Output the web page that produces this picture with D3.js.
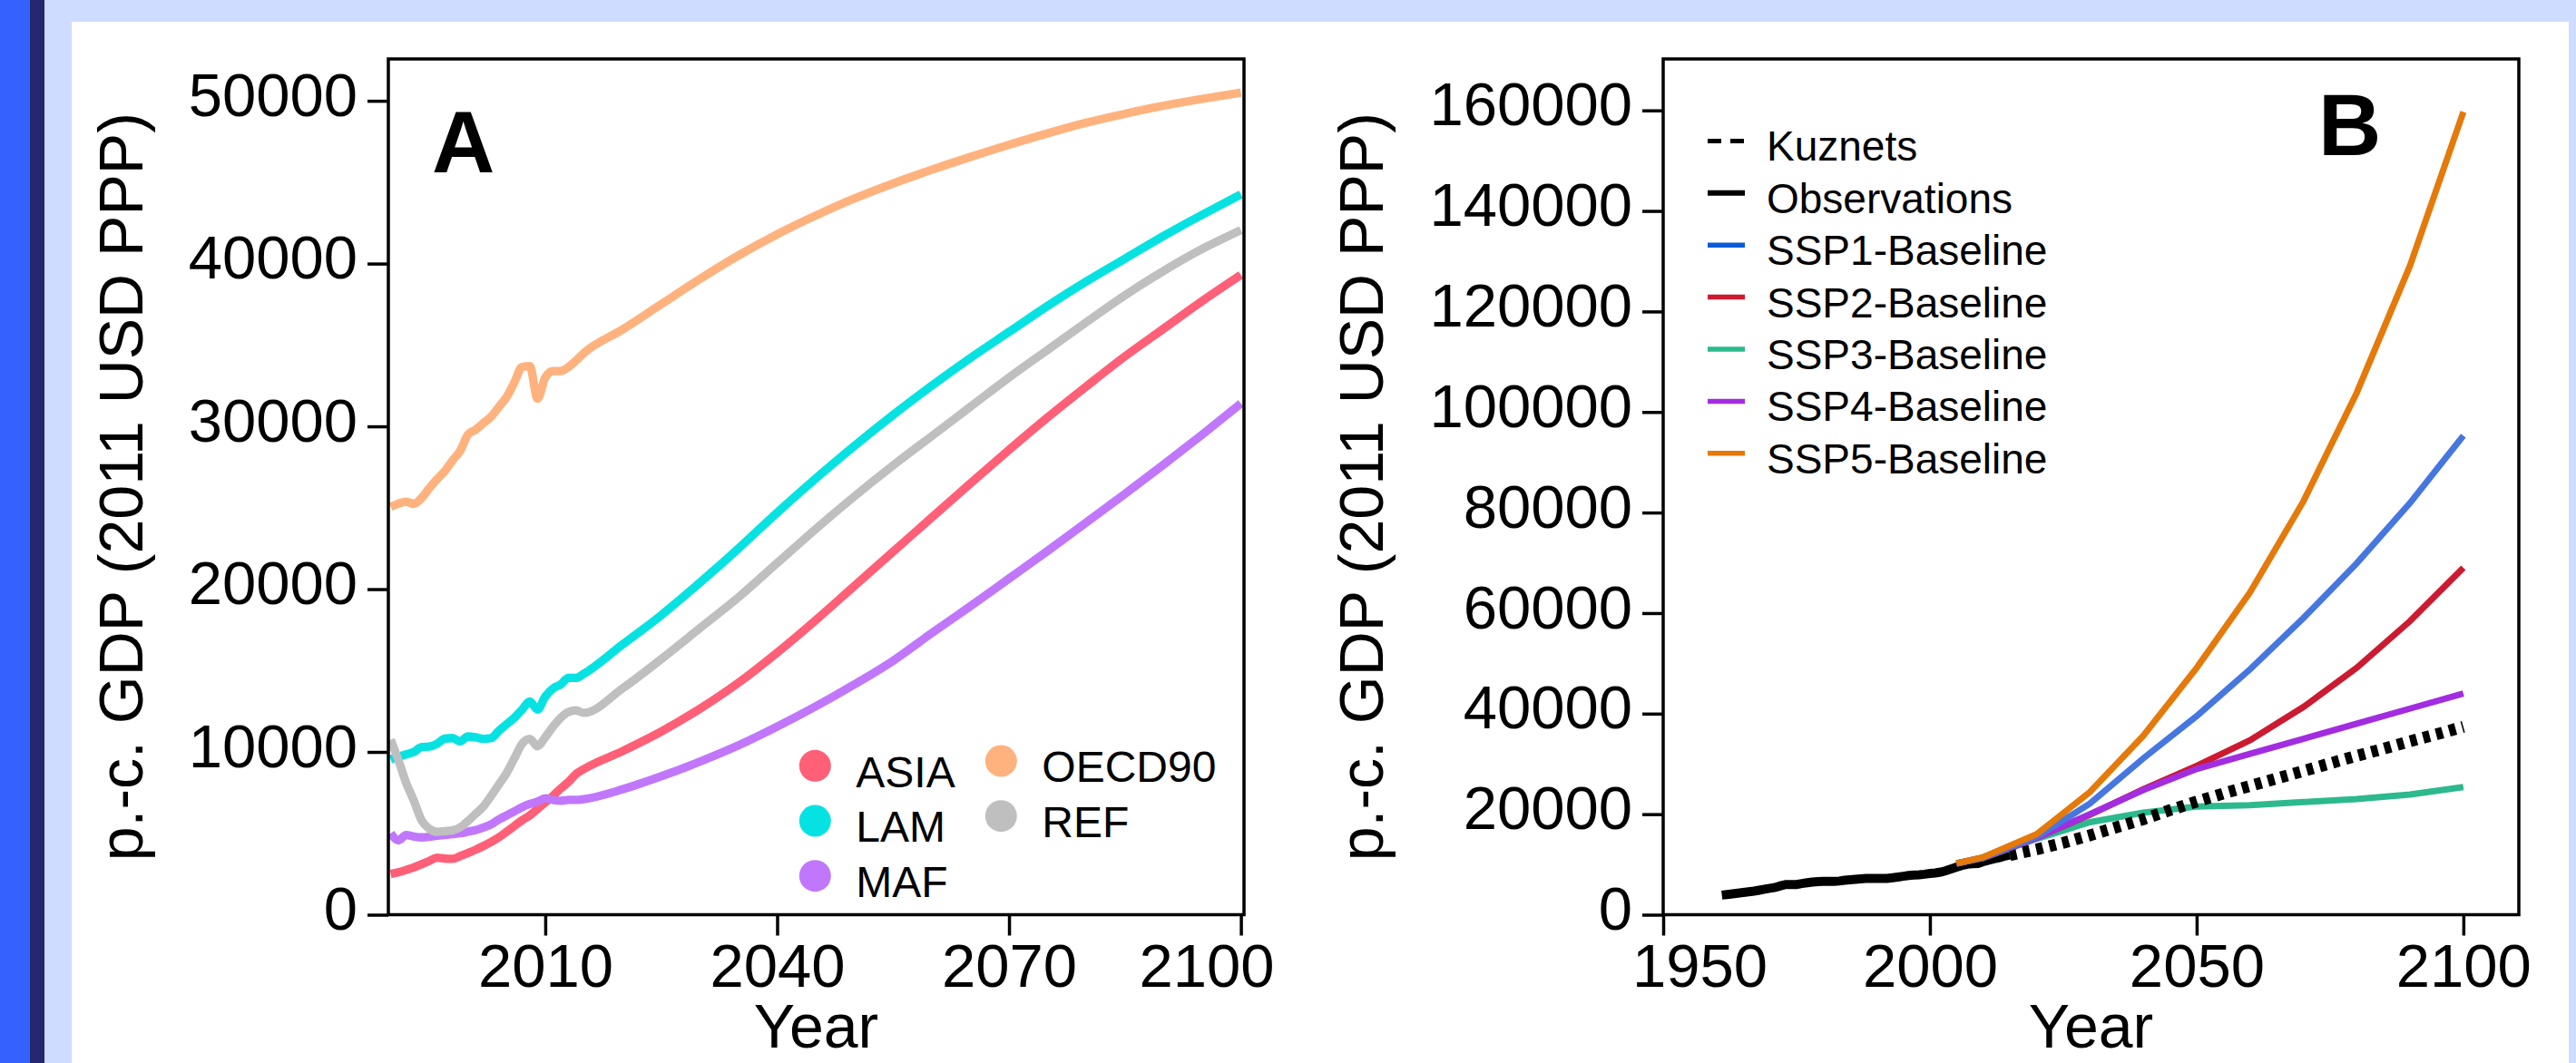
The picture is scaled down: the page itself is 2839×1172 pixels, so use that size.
<!DOCTYPE html>
<html><head><meta charset="utf-8">
<script src="https://cdn.jsdelivr.net/npm/d3@7"></script>
<style>
html,body{margin:0;padding:0;background:#fff;overflow:hidden;}
svg text{font-family:"Liberation Sans",Arial,Helvetica,sans-serif;}
</style></head><body>
<svg id="chart" width="2839" height="1172"></svg>
<script>
// ---------------- DATA: panel A (regional p.-c. GDP) ----------------
const yearsA = [1990,1991,1992,1993,1994,1995,1996,1997,1998,1999,2000,2001,2002,2003,2004,2005,2006,2007,2008,2009,2010,2011,2012,2013,2014,2015,
  2020,2025,2030,2035,2040,2045,2050,2055,2060,2065,2070,2075,2080,2085,2090,2095,2100];
const asia = [2500,2600,2750,2900,3100,3300,3500,3450,3430,3600,3790,3990,4220,4470,4750,5100,5450,5800,6100,6500,6900,7300,7750,8150,8650,8950,
  10050,11250,12650,14250,16100,18100,20200,22300,24400,26500,28550,30550,32450,34300,36000,37700,39300];
const lam = [9550,9700,9850,10000,10300,10330,10500,10820,10850,10650,10950,10900,10800,10850,11300,11700,12100,12600,13100,12600,13400,13900,14150,14550,14550,14800,
  16600,18400,20400,22500,24700,26800,28800,30700,32500,34200,35800,37400,38900,40300,41700,43000,44250];
const maf = [5000,4570,4900,4800,4750,4780,4850,4900,4950,5000,5100,5200,5350,5550,5850,6100,6350,6600,6800,6950,7150,7050,7000,7050,7050,7100,
  7700,8500,9400,10400,11550,12800,14150,15600,17300,18950,20650,22350,24100,25850,27650,29500,31400];
const oecd90 = [25060,25250,25370,25240,25600,26200,26750,27250,27900,28500,29500,29800,30200,30600,31200,31800,32700,33650,33700,31700,33000,33400,33400,33650,34050,34500,
  35950,37500,39050,40500,41800,42950,44000,44920,45760,46550,47300,48000,48650,49200,49700,50120,50500];
const ref = [10750,9500,8100,7000,5800,5280,5090,5130,5180,5370,5750,6200,6650,7300,8000,8700,9600,10500,10800,10350,10900,11550,12100,12450,12550,12400,
  13900,15700,17600,19500,21600,23700,25700,27600,29400,31200,33000,34700,36400,38050,39550,40900,42050];
const regionNames = ["ASIA","LAM","MAF","OECD90","REF"];
const regionColors = ["#FF5F77","#06E2E2","#C077FC","#FFB27D","#BFBFBF"];
const xTicksA = [2010,2040,2070,2100];
const yTicksA = [0,10000,20000,30000,40000,50000];

// ---------------- DATA: panel B (world p.-c. GDP) ----------------
const obsYears = [1961,1962,1963,1964,1965,1966,1967,1968,1969,1970,1971,1972,1973,1974,1975,1976,1977,1978,1979,1980,
  1981,1982,1983,1984,1985,1986,1987,1988,1989,1990,1991,1992,1993,1994,1995,1996,1997,1998,1999,2000,
  2001,2002,2003,2004,2005,2006,2007,2008,2009,2010,2011,2012,2013,2014,2015];
const obsValues = [3900,4020,4150,4280,4420,4560,4700,4880,5080,5250,5420,5750,6000,6020,6020,6200,6350,6480,6600,6620,
  6620,6620,6700,6850,6950,7050,7130,7200,7220,7220,7210,7220,7350,7500,7650,7800,7880,7930,8050,8200,
  8300,8480,8750,9100,9450,9800,10050,10150,10200,10550,10850,11100,11350,11650,11900];
const kuzYears = [2015,2020,2025,2030,2035,2040,2045,2050,2055,2060,2065,2070,2075,2080,2085,2090,2095,2100];
const kuzValues = [11850,13000,14300,15800,17400,19000,20800,22500,24100,25600,27100,28600,30100,31600,33000,34500,35900,37400];
const sspYears = [2005,2010,2020,2030,2040,2050,2060,2070,2080,2090,2100];
const ssp1 = [10200,11400,15500,22100,31100,39500,48800,59000,69900,81900,95300];
const ssp2 = [10200,11350,15300,19900,24950,29600,34700,41300,49100,58400,69000];
const ssp3 = [10200,11300,15100,18400,20300,21500,21800,22400,23000,23900,25400];
const ssp4 = [10200,11350,15300,20000,24800,29000,32000,35000,38000,41000,44000];
const ssp5 = [10200,11450,16000,24400,35600,49100,64100,82200,103800,129100,159700];
const sspNames = ["SSP1-Baseline","SSP2-Baseline","SSP3-Baseline","SSP4-Baseline","SSP5-Baseline"];
const sspColors = ["#4676E0","#CC1A30","#2CB98D","#A22DE0","#E5790A"];
const sspLegendColors = ["#0B5BD7","#CC1A30","#2CB98D","#A22DE0","#E5790A"];
const xTicksB = [1950,2000,2050,2100];
const yTicksB = [0,20000,40000,60000,80000,100000,120000,140000,160000];

// ---------------- LAYOUT ----------------
const W = 2839, H = 1172;
const FONT = 67;
const svg = d3.select("#chart");
svg.append("rect").attr("width", W).attr("height", H).attr("fill", "#CEDCFF");
svg.append("rect").attr("x", 0).attr("width", 33).attr("height", H).attr("fill", "#3461FF");
svg.append("rect").attr("x", 33).attr("width", 16).attr("height", H).attr("fill", "#27276F");
svg.append("rect").attr("x", 79).attr("y", 24).attr("width", 2831 - 79).attr("height", H - 24).attr("fill", "#fff");

const boxA = {left: 428, right: 1371, top: 65, bottom: 1008.5};
const boxB = {left: 1833, right: 2776, top: 65, bottom: 1008.5};

const xA = d3.scaleLinear().domain([1989.7, 2100.4]).range([boxA.left, boxA.right]);
const yA = d3.scaleLinear().domain([0, 52570]).range([boxA.bottom, boxA.top]);
const xB = d3.scaleLinear().domain([1950, 2110.4]).range([boxB.left, boxB.right]);
const yB = d3.scaleLinear().domain([0, 170230]).range([boxB.bottom, boxB.top]);

function drawAxes(box, x, y, xTicks, yTicks, xShift, titleX) {
  const gy = svg.append("g").attr("transform", `translate(${box.left},0)`)
    .call(d3.axisLeft(y).tickValues(yTicks).tickSize(23).tickPadding(11).tickFormat(d3.format("d")));
  gy.select(".domain").remove();
  gy.selectAll(".tick line").attr("stroke", "#000").attr("stroke-width", 3.5);
  gy.selectAll(".tick text").attr("font-size", FONT).attr("fill", "#000").attr("dy", "0.24em")
    .attr("font-family", '"Liberation Sans", Arial, sans-serif');

  const gx = svg.append("g").attr("transform", `translate(0,${box.bottom})`)
    .call(d3.axisBottom(x).tickValues(xTicks).tickSize(23).tickPadding(9).tickFormat(d3.format("d")));
  gx.select(".domain").remove();
  gx.selectAll(".tick line").attr("stroke", "#000").attr("stroke-width", 3.5);
  gx.selectAll(".tick text").attr("font-size", FONT).attr("fill", "#000")
    .attr("font-family", '"Liberation Sans", Arial, sans-serif')
    .attr("dx", d => (xShift[d] || 0));

  svg.append("text").attr("x", (box.left + box.right) / 2).attr("y", 1155)
    .attr("text-anchor", "middle").attr("font-size", 68).text("Year");
  svg.append("text").attr("transform", `translate(${titleX},${(box.top + box.bottom) / 2}) rotate(-90)`)
    .attr("text-anchor", "middle").attr("font-size", 68).text("p.-c. GDP (2011 USD PPP)");
}

// ---------------- PANEL A ----------------
drawAxes(boxA, xA, yA, xTicksA, yTicksA, {2100: -38}, 157);
const lineA = d3.line().curve(d3.curveMonotoneX).x((d) => xA(d[0])).y((d) => yA(d[1]));
const seriesA = [asia, lam, maf, oecd90, ref];
seriesA.forEach((vals, i) => {
  svg.append("path").datum(yearsA.map((yr, j) => [yr, vals[j]]))
    .attr("d", lineA).attr("fill", "none").attr("stroke", regionColors[i])
    .attr("stroke-width", 9.3).attr("stroke-linejoin", "miter").attr("stroke-miterlimit", 4)
    .attr("stroke-linecap", "butt");
});
svg.append("rect").attr("x", boxA.left).attr("y", boxA.top)
  .attr("width", boxA.right - boxA.left).attr("height", boxA.bottom - boxA.top)
  .attr("fill", "none").attr("stroke", "#000").attr("stroke-width", 3.5);
svg.append("text").attr("x", 476).attr("y", 190).attr("font-size", 96).attr("font-weight", "bold").text("A");

// legend A (two columns)
const legA = [
  {name: regionNames[0], color: regionColors[0], cx: 898.3, cy: 844.3},
  {name: regionNames[1], color: regionColors[1], cx: 898.3, cy: 905},
  {name: regionNames[2], color: regionColors[2], cx: 898.3, cy: 965.7},
  {name: regionNames[3], color: regionColors[3], cx: 1103.3, cy: 839},
  {name: regionNames[4], color: regionColors[4], cx: 1103.3, cy: 899.7}
];
legA.forEach(l => {
  svg.append("circle").attr("cx", l.cx).attr("cy", l.cy).attr("r", 17.5).attr("fill", l.color);
  svg.append("text").attr("x", l.cx + 45).attr("y", l.cy + 23.4).attr("font-size", 48).text(l.name);
});

// ---------------- PANEL B ----------------
drawAxes(boxB, xB, yB, xTicksB, yTicksB, {1950: 40}, 1524);
const lineB = d3.line().x((d) => xB(d[0])).y((d) => yB(d[1]));
function pathB(years, vals, color, width, dash) {
  const p = svg.append("path").datum(years.map((yr, j) => [yr, vals[j]]))
    .attr("d", lineB).attr("fill", "none").attr("stroke", color)
    .attr("stroke-width", width).attr("stroke-linejoin", "miter").attr("stroke-miterlimit", 4)
    .attr("stroke-linecap", "butt");
  if (dash) p.attr("stroke-dasharray", dash);
}
pathB(obsYears, obsValues, "#000", 10);
pathB(sspYears, ssp3, sspColors[2], 7);
pathB(kuzYears, kuzValues, "#000", 13, "7.5,7.3");
pathB(sspYears, ssp2, sspColors[1], 7);
pathB(sspYears, ssp4, sspColors[3], 7);
pathB(sspYears, ssp1, sspColors[0], 7);
pathB(sspYears, ssp5, sspColors[4], 7);
svg.append("rect").attr("x", boxB.left).attr("y", boxB.top)
  .attr("width", boxB.right - boxB.left).attr("height", boxB.bottom - boxB.top)
  .attr("fill", "none").attr("stroke", "#000").attr("stroke-width", 3.5);
svg.append("text").attr("x", 2555).attr("y", 170.7).attr("font-size", 96).attr("font-weight", "bold").text("B");

// legend B
const legB = [{name: "Kuznets", color: "#000", dash: "15,10", w: 5},
              {name: "Observations", color: "#000", dash: null, w: 6}]
  .concat(sspNames.map((n, i) => ({name: n, color: sspLegendColors[i], dash: null, w: 5.5})));
legB.forEach((l, i) => {
  const yy = 155.4 + i * 57.4;
  const ln = svg.append("line").attr("x1", 1882).attr("x2", 1923).attr("y1", yy).attr("y2", yy)
    .attr("stroke", l.color).attr("stroke-width", l.w);
  if (l.dash) ln.attr("stroke-dasharray", l.dash);
  svg.append("text").attr("x", 1947).attr("y", yy + 22).attr("font-size", 46).text(l.name);
});
</script></body></html>
